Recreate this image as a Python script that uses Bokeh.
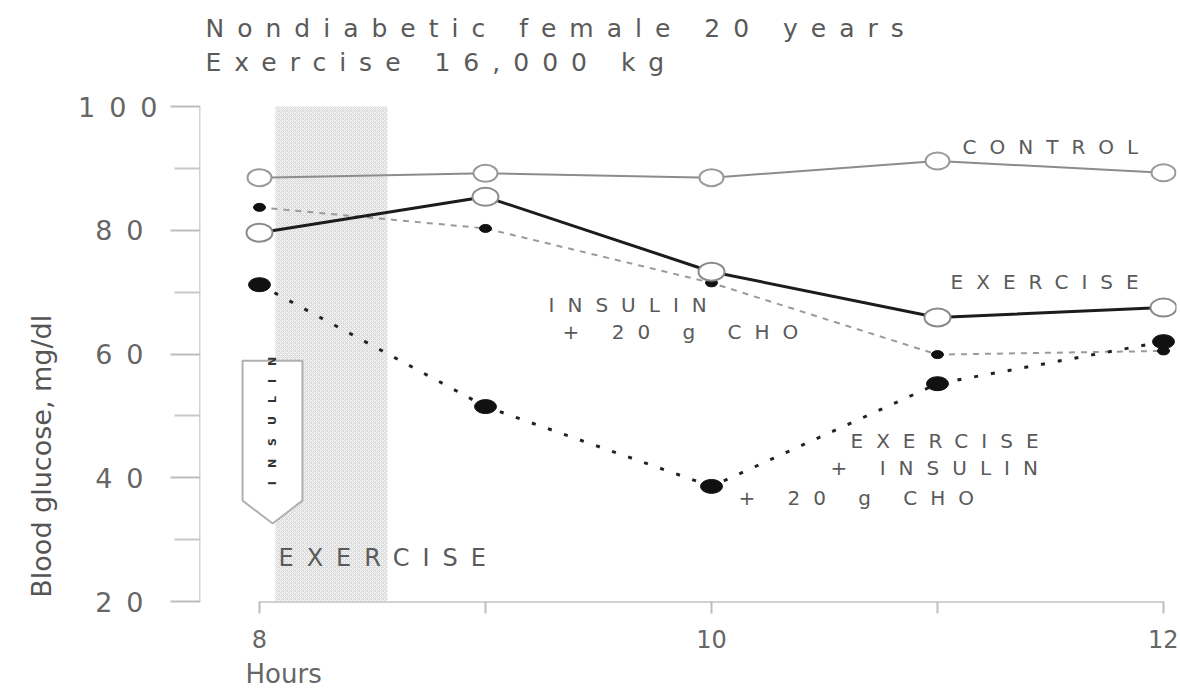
import math
from bokeh.plotting import figure
from bokeh.models import Range1d, FixedTicker, Label, Title, InlineStyleSheet
from bokeh.layouts import row, column
from bokeh.embed import file_html
from bokeh.resources import INLINE

# ---- data ----
hours = [8, 9, 10, 11, 12]
control = [88.5, 89.2, 88.5, 91.2, 89.3]
exercise = [79.6, 85.4, 73.3, 65.9, 67.5]
insulin_cho = [83.7, 80.3, 71.5, 59.9, 60.5]
exercise_insulin_cho = [71.2, 51.5, 38.6, 55.2, 62.0]

exercise_period = [8.071, 8.566]          # shaded exercise bout (hours)
y_ticks = [20, 40, 60, 80, 100]
y_minor = [30, 50, 70, 90]
x_ticks = [8, 9, 10, 11, 12]
x_tick_labels = {8: "8", 9: "", 10: "10", 11: "", 12: "12"}
title_lines = ["Nondiabetic female 20 years", "Exercise 16,000 kg"]

FONT = "DejaVu Sans"
TXT = "#5a5a5a"
AXIS = "#d2d2d2"
TICK = "#bdbdbd"

x_range = Range1d(7.73894, 12.05752)
y_range = Range1d(20, 100.97)


def spaced(px):
    return [InlineStyleSheet(css=":host { letter-spacing: %dpx; }" % px)]


def bare(fig):
    fig.grid.visible = False
    fig.outline_line_color = None
    return fig


# ---- title strip ----
t = bare(figure(width=978, height=100, x_range=Range1d(0, 978), y_range=Range1d(0, 100),
                output_backend="svg", toolbar_location=None,
                x_axis_location=None, y_axis_location=None,
                min_border_left=0, min_border_right=0, min_border_top=0, min_border_bottom=0))
t.stylesheets = spaced(13)
for txt, yy in zip(title_lines, [72, 38]):
    t.add_layout(Label(x=5, y=yy, text=txt, text_align="left", text_baseline="middle",
                       text_font=FONT, text_font_size="25px", text_color=TXT))

# ---- main plotting area (no axes of its own) ----
p = bare(figure(width=978, height=501, x_range=x_range, y_range=y_range,
                output_backend="svg", toolbar_location=None,
                x_axis_location=None, y_axis_location=None,
                min_border_left=0, min_border_right=2,
                min_border_top=0, min_border_bottom=0))
p.stylesheets = spaced(13)

# shaded exercise period
p.quad(left=[exercise_period[0]], right=[exercise_period[1]], bottom=[20], top=[100],
       fill_color="#f0f0f0", line_color=None,
       hatch_pattern="diagonal_cross", hatch_color="#d4d4d4", hatch_scale=4, hatch_weight=1)

# INSULIN arrow box
box_x = [7.925, 8.19, 8.19, 8.058, 7.925]
box_y = [58.9, 58.9, 36.3, 32.6, 36.3]
p.patch(box_x, box_y, fill_color="white", line_color="#b0b0b0", line_width=2)
p.add_layout(Label(x=8.058, y=38.8, text="INSULIN", angle=math.pi / 2,
                   text_align="left", text_baseline="middle",
                   text_font=FONT, text_font_size="11px", text_font_style="bold",
                   text_color="#333333"))

# series lines
p.line(hours, control, line_color="#8c8c8c", line_width=2)
p.line(hours, insulin_cho, line_color="#9a9a9a", line_width=2, line_dash="6 6")
p.line(hours, exercise_insulin_cho, line_color="#222222", line_width=3, line_dash="4 13")
p.line(hours, exercise, line_color="#1c1c1c", line_width=3)

# markers
p.ellipse(x=hours, y=insulin_cho, width=12, height=8,
          width_units="screen", height_units="screen",
          fill_color="#111111", line_color="#111111")
p.ellipse(x=hours, y=exercise_insulin_cho, width=22, height=14,
          width_units="screen", height_units="screen",
          fill_color="#111111", line_color="#111111")
p.ellipse(x=hours, y=control, width=24, height=17,
          width_units="screen", height_units="screen",
          fill_color="white", line_color="#9a9a9a", line_width=2)
p.ellipse(x=hours, y=exercise, width=26, height=18,
          width_units="screen", height_units="screen",
          fill_color="white", line_color="#8a8a8a", line_width=2)


def lab(x, y, text, size="20px", color=TXT):
    p.add_layout(Label(x=x, y=y, text=text, text_align="left", text_baseline="middle",
                       text_font=FONT, text_font_size=size, text_color=color))


lab(11.111, 93.5, "CONTROL")
lab(11.058, 71.7, "EXERCISE")
lab(9.279, 68.0, "INSULIN")
lab(9.341, 63.5, "+ 20 g CHO")
lab(10.615, 46.0, "EXERCISE")
lab(10.527, 41.5, "+ INSULIN")
lab(10.119, 36.8, "+ 20 g CHO")
lab(8.084, 27.1, "EXERCISE", size="24px")

# ---- x axis strip below the plot (shares the x range) ----
b = bare(figure(width=978, height=86, x_range=x_range, y_range=Range1d(0, 1),
                output_backend="svg", toolbar_location=None, y_axis_location=None,
                min_border_left=0, min_border_right=2,
                min_border_top=0, min_border_bottom=85))
b.xaxis.bounds = (8, 12)
b.xaxis.ticker = FixedTicker(ticks=x_ticks, minor_ticks=[])
b.xaxis.major_label_overrides = x_tick_labels
b.xaxis.axis_line_color = AXIS
b.xaxis.axis_line_width = 3
b.xaxis.major_tick_line_color = TICK
b.xaxis.major_tick_line_width = 2
b.xaxis.major_tick_out = 12
b.xaxis.major_tick_in = 0
b.xaxis.minor_tick_line_color = None
b.xaxis.major_label_standoff = 16
b.xaxis.major_label_text_font = FONT
b.xaxis.major_label_text_font_size = "24px"
b.xaxis.major_label_text_color = "#666666"
b.add_layout(Title(text="Hours", align="left", offset=45, standoff=12,
                   text_font=FONT, text_font_size="26px",
                   text_font_style="normal", text_color="#666666"), "below")

# ---- y axis strip (shares the y range) ----
a = bare(figure(width=122, height=687, x_range=Range1d(0, 1), y_range=y_range,
                output_backend="svg", toolbar_location=None, x_axis_location=None,
                min_border_left=121, min_border_right=0,
                min_border_top=100, min_border_bottom=86))
a.stylesheets = spaced(14)
a.yaxis.bounds = (20, 100)
a.yaxis.ticker = FixedTicker(ticks=y_ticks, minor_ticks=y_minor)
a.yaxis.axis_line_color = AXIS
a.yaxis.axis_line_width = 3
a.yaxis.major_tick_line_color = TICK
a.yaxis.major_tick_line_width = 2
a.yaxis.major_tick_out = 30
a.yaxis.major_tick_in = 0
a.yaxis.minor_tick_line_color = "#c8c8c8"
a.yaxis.minor_tick_line_width = 2
a.yaxis.minor_tick_out = 26
a.yaxis.minor_tick_in = 0
a.yaxis.major_label_standoff = 41
a.yaxis.major_label_text_font = FONT
a.yaxis.major_label_text_font_size = "27px"
a.yaxis.major_label_text_color = "#666666"

# ---- narrow left strip carrying the rotated y-axis title ----
q = bare(figure(width=78, height=687, x_range=Range1d(0, 1), y_range=Range1d(0, 1),
                output_backend="svg", toolbar_location=None,
                x_axis_location=None, y_axis_location=None,
                min_border_left=0, min_border_right=0, min_border_top=0, min_border_bottom=0))
q.add_layout(Label(x=0.53, y=0.29, text="Blood glucose, mg/dl", angle=math.pi / 2,
                   text_align="center", text_baseline="middle",
                   text_font=FONT, text_font_size="27px", text_color="#555555"))

layout = row(q, a, column(t, p, b))
open("out.html", "w").write(file_html(layout, INLINE))
